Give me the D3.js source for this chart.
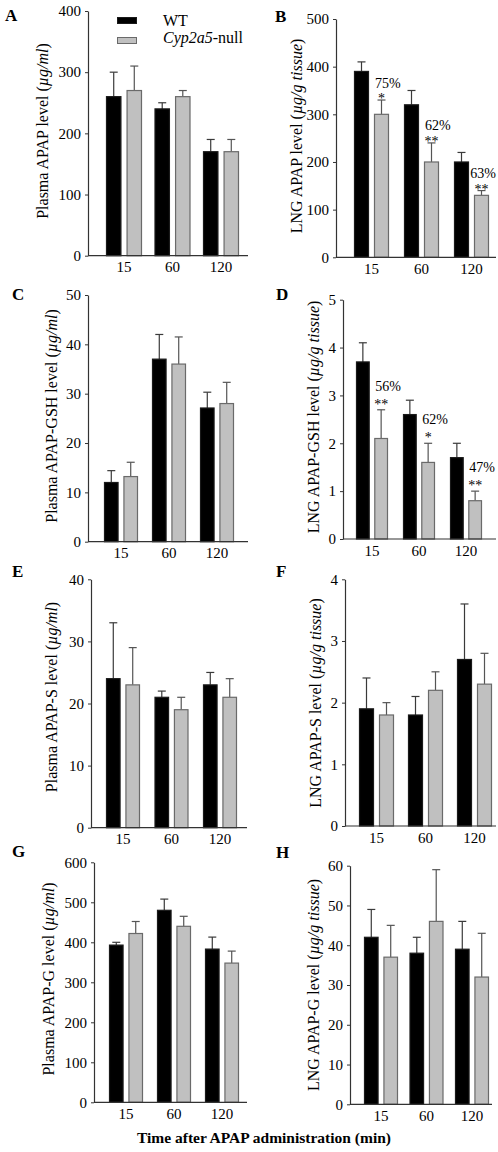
<!DOCTYPE html>
<html>
<head>
<meta charset="utf-8">
<script src="https://cdn.jsdelivr.net/npm/d3@7"></script>
<style>
  html, body { margin: 0; padding: 0; background: #fff; }
  svg { display: block; }
  text { font-family: "Liberation Serif", "Times New Roman", serif; fill: #000; }
</style>
</head>
<body>
<svg id="chart" width="498" height="1152"></svg>
<script>
// ---------- DATA ----------
const categories = ["15", "60", "120"];
const seriesNames = ["WT", "Cyp2a5-null"];

// A: Plasma APAP (µg/ml)
const plasmaAPAP_WT = [260, 240, 170];
const plasmaAPAP_WT_err = [40, 10, 20];
const plasmaAPAP_null = [270, 260, 170];
const plasmaAPAP_null_err = [40, 10, 20];
const plasmaAPAP_ticks = [0, 100, 200, 300, 400];

// B: LNG APAP (µg/g tissue)
const lngAPAP_WT = [390, 320, 200];
const lngAPAP_WT_err = [20, 30, 20];
const lngAPAP_null = [300, 200, 130];
const lngAPAP_null_err = [30, 40, 10];
const lngAPAP_ticks = [0, 100, 200, 300, 400, 500];
const lngAPAP_pct = ["75%", "62%", "63%"];
const lngAPAP_sig = ["*", "**", "**"];

// C: Plasma APAP-GSH (µg/ml)
const plasmaGSH_WT = [12, 37, 27.1];
const plasmaGSH_WT_err = [2.4, 5, 3.2];
const plasmaGSH_null = [13.2, 36, 28];
const plasmaGSH_null_err = [2.9, 5.5, 4.3];
const plasmaGSH_ticks = [0, 10, 20, 30, 40, 50];

// D: LNG APAP-GSH (µg/g tissue)
const lngGSH_WT = [3.7, 2.6, 1.7];
const lngGSH_WT_err = [0.4, 0.3, 0.3];
const lngGSH_null = [2.1, 1.6, 0.8];
const lngGSH_null_err = [0.6, 0.4, 0.2];
const lngGSH_ticks = [0, 1, 2, 3, 4, 5];
const lngGSH_pct = ["56%", "62%", "47%"];
const lngGSH_sig = ["**", "*", "**"];

// E: Plasma APAP-S (µg/ml)
const plasmaS_WT = [24, 21, 23];
const plasmaS_WT_err = [9, 1, 2];
const plasmaS_null = [23, 19, 21];
const plasmaS_null_err = [6, 2, 3];
const plasmaS_ticks = [0, 10, 20, 30, 40];

// F: LNG APAP-S (µg/g tissue)
const lngS_WT = [1.9, 1.8, 2.7];
const lngS_WT_err = [0.5, 0.3, 0.9];
const lngS_null = [1.8, 2.2, 2.3];
const lngS_null_err = [0.2, 0.3, 0.5];
const lngS_ticks = [0, 1, 2, 3, 4];

// G: Plasma APAP-G (µg/ml)
const plasmaG_WT = [393, 480, 383];
const plasmaG_WT_err = [7, 28, 30];
const plasmaG_null = [422, 440, 348];
const plasmaG_null_err = [30, 25, 30];
const plasmaG_ticks = [0, 100, 200, 300, 400, 500, 600];

// H: LNG APAP-G (µg/g tissue)
const lngG_WT = [42, 38, 39];
const lngG_WT_err = [7, 4, 7];
const lngG_null = [37, 46, 32];
const lngG_null_err = [8, 13, 11];
const lngG_ticks = [0, 10, 20, 30, 40, 50, 60];

const xAxisTitle = "Time after APAP administration (min)";

// ---------- PANELS (data + layout) ----------
const panels = [
  { letter: "A", wt: plasmaAPAP_WT, wtErr: plasmaAPAP_WT_err, nu: plasmaAPAP_null, nuErr: plasmaAPAP_null_err, ticks: plasmaAPAP_ticks,
    title: ["Plasma APAP level ", "µg/ml"],
    L: { ax: 88, top: 11, bot: 255.7, right: 248, gx0: 106, step: 48.5, gw: 36, tx: 42, ty: 131, lx: 5, ly: 21 } },
  { letter: "B", wt: lngAPAP_WT, wtErr: lngAPAP_WT_err, nu: lngAPAP_null, nuErr: lngAPAP_null_err, ticks: lngAPAP_ticks,
    title: ["LNG APAP level ", "µg/g tissue"], pct: lngAPAP_pct, sig: lngAPAP_sig,
    L: { ax: 336, top: 19, bot: 257.3, right: 496, gx0: 354, step: 50, gw: 35, tx: 296, ty: 136, lx: 275, ly: 22, sigOff: 3, pctOff: -15.5 } },
  { letter: "C", wt: plasmaGSH_WT, wtErr: plasmaGSH_WT_err, nu: plasmaGSH_null, nuErr: plasmaGSH_null_err, ticks: plasmaGSH_ticks,
    title: ["Plasma APAP-GSH level ", "µg/ml"],
    L: { ax: 88, top: 295, bot: 541.7, right: 248, gx0: 104, step: 48, gw: 34, tx: 51, ty: 416, lx: 12, ly: 300 } },
  { letter: "D", wt: lngGSH_WT, wtErr: lngGSH_WT_err, nu: lngGSH_null, nuErr: lngGSH_null_err, ticks: lngGSH_ticks,
    title: ["LNG APAP-GSH level ", "µg/g tissue"], pct: lngGSH_pct, sig: lngGSH_sig,
    L: { ax: 343, top: 299.7, bot: 539, right: 496, gx0: 356, step: 47, gw: 32, tx: 313, ty: 417, lx: 276, ly: 300, sigOff: -1, pctOff: -18 } },
  { letter: "E", wt: plasmaS_WT, wtErr: plasmaS_WT_err, nu: plasmaS_null, nuErr: plasmaS_null_err, ticks: plasmaS_ticks,
    title: ["Plasma APAP-S level ", "µg/ml"],
    L: { ax: 91, top: 579.3, bot: 827.7, right: 247, gx0: 106, step: 48.5, gw: 34, tx: 51, ty: 697, lx: 12, ly: 577 } },
  { letter: "F", wt: lngS_WT, wtErr: lngS_WT_err, nu: lngS_null, nuErr: lngS_null_err, ticks: lngS_ticks,
    title: ["LNG APAP-S level ", "µg/g tissue"],
    L: { ax: 345, top: 579.3, bot: 826, right: 496, gx0: 359, step: 49, gw: 35, tx: 315, ty: 703, lx: 276, ly: 577 } },
  { letter: "G", wt: plasmaG_WT, wtErr: plasmaG_WT_err, nu: plasmaG_null, nuErr: plasmaG_null_err, ticks: plasmaG_ticks,
    title: ["Plasma APAP-G level ", "µg/ml"],
    L: { ax: 94, top: 862.3, bot: 1102.3, right: 247, gx0: 109, step: 48, gw: 34, tx: 48, ty: 979, lx: 12, ly: 857 } },
  { letter: "H", wt: lngG_WT, wtErr: lngG_WT_err, nu: lngG_null, nuErr: lngG_null_err, ticks: lngG_ticks,
    title: ["LNG APAP-G level ", "µg/g tissue"],
    L: { ax: 350, top: 865.7, bot: 1104.3, right: 492, gx0: 364, step: 45.5, gw: 34, tx: 313, ty: 985, lx: 276, ly: 858 } }
];

const colors = { fill: ["#000000", "#c0c0c0"], stroke: ["#1a1a1a", "#6a6a6a"], err: ["#3a3a3a", "#555555"] };
const svg = d3.select("#chart");

panels.forEach(p => {
  const L = p.L;
  const g = svg.append("g");
  const gap = L.step - L.gw;
  const x = d3.scaleBand().domain(categories)
    .range([L.gx0 - gap / 2, L.gx0 - gap / 2 + L.step * categories.length])
    .paddingInner(gap / L.step).paddingOuter(gap / L.step / 2);
  const xs = d3.scaleBand().domain(seriesNames).range([0, x.bandwidth()]).paddingInner(0.25);
  const y = d3.scaleLinear().domain([0, d3.max(p.ticks)]).range([L.bot, L.top]);

  const rows = [];
  categories.forEach((c, i) => {
    rows.push({ c, s: 0, v: p.wt[i], e: p.wtErr[i], i });
    rows.push({ c, s: 1, v: p.nu[i], e: p.nuErr[i], i });
  });

  // error bars (upper only)
  const cap = 4;
  rows.forEach(r => {
    const cx = x(r.c) + xs(seriesNames[r.s]) + xs.bandwidth() / 2;
    const y0 = y(r.v), y1 = y(r.v + r.e);
    g.append("line").attr("x1", cx).attr("x2", cx).attr("y1", y0).attr("y2", y1)
      .attr("stroke", colors.err[r.s]).attr("stroke-width", 1.2);
    g.append("line").attr("x1", cx - cap).attr("x2", cx + cap).attr("y1", y1).attr("y2", y1)
      .attr("stroke", colors.err[r.s]).attr("stroke-width", 1.2);
  });

  // bars
  g.selectAll("rect.bar").data(rows).join("rect").attr("class", "bar")
    .attr("x", r => x(r.c) + xs(seriesNames[r.s]) + 0.5)
    .attr("width", xs.bandwidth() - 1)
    .attr("y", r => y(r.v))
    .attr("height", r => L.bot - y(r.v))
    .attr("fill", r => colors.fill[r.s])
    .attr("stroke", r => colors.stroke[r.s])
    .attr("stroke-width", 1.2);

  // y axis
  const yAxis = g.append("g").attr("transform", `translate(${L.ax},0)`)
    .call(d3.axisLeft(y).tickValues(p.ticks).tickSize(3).tickSizeOuter(0).tickPadding(4).tickFormat(d3.format("d")));
  yAxis.select(".domain").attr("stroke", "#333").attr("stroke-width", 1.2);
  yAxis.selectAll(".tick line").attr("stroke", "#333");
  yAxis.selectAll(".tick text").style("font-family", '"Liberation Serif", serif').style("font-size", "15px").attr("fill", "#000");

  // x axis line + labels
  g.append("line").attr("x1", L.ax).attr("x2", L.right).attr("y1", L.bot).attr("y2", L.bot)
    .attr("stroke", "#333").attr("stroke-width", 1.2);
  const xAxis = g.append("g").attr("transform", `translate(0,${L.bot})`)
    .call(d3.axisBottom(x).tickSize(0).tickPadding(6));
  xAxis.select(".domain").remove();
  xAxis.selectAll(".tick text").style("font-family", '"Liberation Serif", serif').style("font-size", "15px").attr("fill", "#000");

  // y title
  const t = g.append("text").attr("transform", `translate(${L.tx},${L.ty}) rotate(-90)`)
    .attr("text-anchor", "middle").attr("dominant-baseline", "central").style("font-size", "16px");
  t.append("tspan").text(p.title[0] + "(");
  t.append("tspan").style("font-style", "italic").text(p.title[1]);
  t.append("tspan").text(")");

  // panel letter
  g.append("text").attr("x", L.lx).attr("y", L.ly).style("font-size", "17px").style("font-weight", "bold").text(p.letter);

  // annotations
  if (p.pct) {
    categories.forEach((c, i) => {
      const bx = x(c) + xs(seriesNames[1]);
      const cx = bx + xs.bandwidth() / 2;
      const yc = y(p.nu[i] + p.nuErr[i]);
      g.append("text").attr("x", cx).attr("y", yc + L.sigOff).attr("text-anchor", "middle")
        .style("font-size", "14px").text(p.sig[i]);
      const pt = g.append("text").attr("x", bx + 1).attr("y", yc + L.sigOff + L.pctOff).attr("text-anchor", "start")
        .style("font-size", "14px").text(p.pct[i]);
      const w = pt.node().getComputedTextLength();
      if (bx + 1 + w > 496) pt.attr("x", 496 - w);
    });
  }
});

// legend (panel A)
const leg = svg.append("g");
seriesNames.forEach((s, i) => {
  leg.append("rect").attr("x", 117.5).attr("y", 17.5 + i * 20).attr("width", 19).attr("height", 6)
    .attr("fill", colors.fill[i]).attr("stroke", colors.stroke[i]).attr("stroke-width", 1);
  const tx = leg.append("text").attr("x", 163).attr("y", 26 + i * 17).style("font-size", "16px");
  if (i === 1) {
    tx.append("tspan").style("font-style", "italic").text("Cyp2a5");
    tx.append("tspan").text("-null");
  } else {
    tx.text(s);
  }
});

// shared x title
svg.append("text").attr("x", 264).attr("y", 1143).attr("text-anchor", "middle")
  .style("font-size", "15.5px").style("font-weight", "bold").text(xAxisTitle);
</script>
</body>
</html>
